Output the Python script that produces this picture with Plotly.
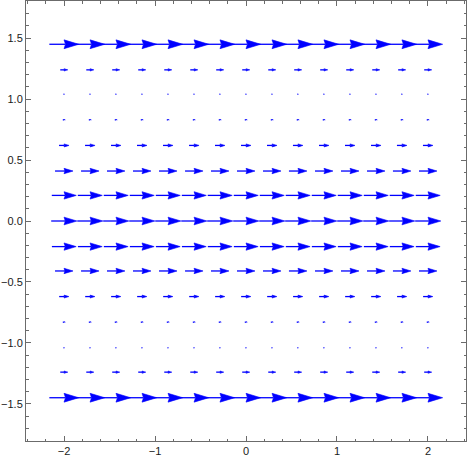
import plotly.graph_objects as go

# grid of arrow centres
x_cols = [-2.0, -1.714, -1.429, -1.143, -0.857, -0.571, -0.286, 0.0,
          0.286, 0.571, 0.857, 1.143, 1.429, 1.714, 2.0]
y_rows = [-1.45, -1.24, -1.04, -0.83, -0.62, -0.41, -0.21, 0.0,
          0.21, 0.41, 0.62, 0.83, 1.04, 1.24, 1.45]
# arrow length (x units) for each row, all arrows point in +x
u_rows = [0.323, 0.083, 0.011, 0.027, 0.107, 0.198, 0.267, 0.282,
          0.269, 0.198, 0.110, 0.027, 0.011, 0.083, 0.323]

x_range = [-2.418, 2.418]
y_range = [-1.805, 1.805]
W, H = 468, 458
margin = dict(l=26, r=2, t=1, b=17)
px_x = (W - margin['l'] - margin['r']) / (x_range[1] - x_range[0])
px_y = (H - margin['t'] - margin['b']) / (y_range[1] - y_range[0])

BLUE = 'rgb(0,0,255)'
FRAME = '#6b6b6b'

shaft_x, shaft_y, head_x, head_y = [], [], [], []
for y, u in zip(y_rows, u_rows):
    hl = 0.5 * u                      # head length, x units
    hh = 0.15 * u * px_x / px_y       # half head height, y units
    for x in x_cols:
        tail, tip = x - u / 2, x + u / 2
        back = tip - hl
        notch = tip - 0.9 * hl
        shaft_x += [tail, notch, None]
        shaft_y += [y, y, None]
        head_x += [tip, back, notch, back, tip, None]
        head_y += [y, y + hh, y, y - hh, y, None]

fig = go.Figure()
fig.add_trace(go.Scatter(x=shaft_x, y=shaft_y, mode='lines',
                         line=dict(color=BLUE, width=1.3),
                         hoverinfo='skip', showlegend=False))
fig.add_trace(go.Scatter(x=head_x, y=head_y, mode='lines', fill='toself',
                         fillcolor=BLUE, line=dict(color=BLUE, width=0.6),
                         hoverinfo='skip', showlegend=False))

axis_common = dict(showgrid=False, zeroline=False, showline=True,
                   linecolor=FRAME, linewidth=1, mirror='ticks',
                   ticks='inside', ticklen=5, tickcolor=FRAME, tickwidth=1,
                   automargin=False,
                   tickfont=dict(family='Liberation Sans', size=11, color='#1a1a1a'))

fig.update_xaxes(range=x_range, tickvals=[-2, -1, 0, 1, 2],
                 minor=dict(dtick=0.2, tick0=0, ticks='inside', ticklen=2.5,
                            tickcolor=FRAME, showgrid=False),
                 **axis_common)
fig.update_yaxes(range=y_range, tickvals=[-1.5, -1.0, -0.5, 0.0, 0.5, 1.0, 1.5],
                 tickformat='.1f',
                 minor=dict(dtick=0.1, tick0=0, ticks='inside', ticklen=2.5,
                            tickcolor=FRAME, showgrid=False),
                 **axis_common)

fig.update_layout(width=W, height=H, margin=margin,
                  plot_bgcolor='white', paper_bgcolor='white')

# drop the page's default body margin so the figure sits at the window corner
fig.write_html("out.html", config={'displayModeBar': False},
               post_script="document.body.style.margin='0';")
